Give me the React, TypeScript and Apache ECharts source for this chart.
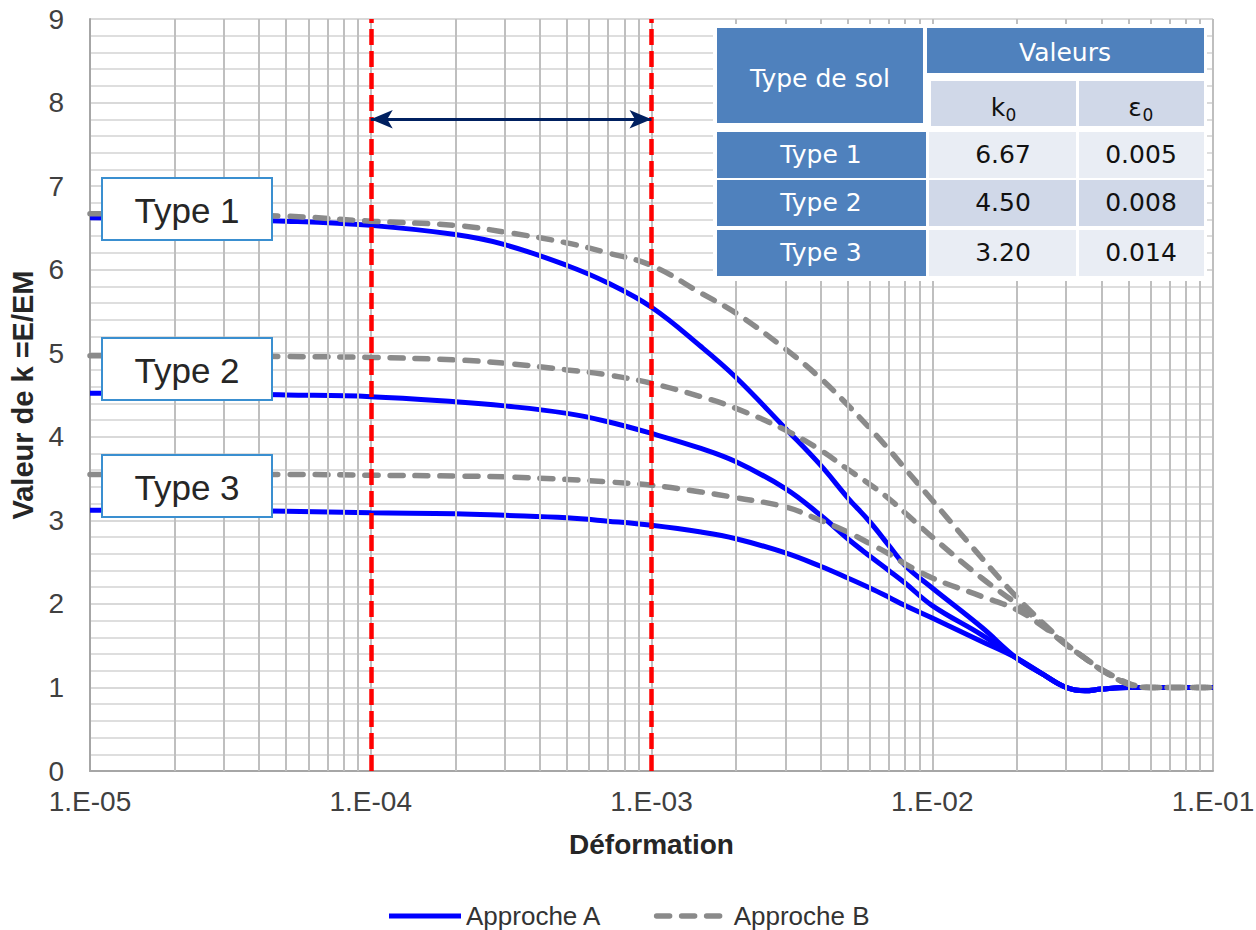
import React, { useEffect, useRef } from 'react';
import * as echarts from 'echarts';

// ---------- data ----------
const strain = [1e-5, 2e-5, 5e-5, 1e-4, 2e-4, 3e-4, 5e-4, 7e-4, 1e-3, 1.5e-3, 2e-3, 3e-3, 4e-3, 5e-3, 6e-3, 7e-3, 8e-3, 1e-2, 1.5e-2, 2e-2, 2.5e-2, 3e-2, 3.5e-2, 4e-2, 5e-2, 6e-2, 7e-2, 1e-1];

const approcheA_type1 = [6.62, 6.61, 6.58, 6.53, 6.42, 6.30, 6.05, 5.84, 5.55, 5.08, 4.71, 4.10, 3.66, 3.27, 2.98, 2.70, 2.46, 2.19, 1.72, 1.35, 1.15, 1.0, 0.96, 0.98, 1.0, 1.0, 1.0, 1.0];
const approcheA_type2 = [4.52, 4.52, 4.50, 4.48, 4.42, 4.37, 4.28, 4.18, 4.04, 3.86, 3.70, 3.38, 3.06, 2.78, 2.57, 2.40, 2.25, 1.98, 1.63, 1.35, 1.15, 1.0, 0.96, 0.98, 1.0, 1.0, 1.0, 1.0];
const approcheA_type3 = [3.12, 3.12, 3.11, 3.09, 3.08, 3.06, 3.03, 2.99, 2.94, 2.86, 2.78, 2.61, 2.45, 2.31, 2.19, 2.08, 1.98, 1.83, 1.55, 1.35, 1.15, 1.0, 0.96, 0.98, 1.0, 1.0, 1.0, 1.0];

const approcheB_type1 = [6.67, 6.66, 6.64, 6.58, 6.53, 6.45, 6.32, 6.2, 6.05, 5.72, 5.48, 5.05, 4.70, 4.38, 4.10, 3.85, 3.62, 3.24, 2.55, 2.08, 1.76, 1.52, 1.35, 1.22, 1.05, 1.0, 1.0, 1.0];
const approcheB_type2 = [4.97, 4.97, 4.96, 4.95, 4.92, 4.88, 4.8, 4.74, 4.64, 4.48, 4.34, 4.08, 3.84, 3.61, 3.43, 3.26, 3.09, 2.80, 2.31, 2.0, 1.74, 1.51, 1.35, 1.21, 1.04, 1.0, 1.0, 1.0];
const approcheB_type3 = [3.55, 3.55, 3.55, 3.54, 3.53, 3.52, 3.49, 3.46, 3.42, 3.34, 3.27, 3.16, 3.0, 2.86, 2.72, 2.6, 2.48, 2.31, 2.09, 1.93, 1.72, 1.51, 1.35, 1.21, 1.04, 1.0, 1.0, 1.0];

const xTickLabels = ['1.E-05', '1.E-04', '1.E-03', '1.E-02', '1.E-01'];
const decades = [1e-5, 1e-4, 1e-3, 1e-2];
const minorMultipliers = [2, 3, 4, 5, 6, 7, 8, 9];
const boundaryStrains = [1e-4, 1e-3];
const arrowLevel = 7.8;
const yRange = [0, 9];

const legendNames = ['Approche A', 'Approche B'];
const curveLabels = ['Type 1', 'Type 2', 'Type 3'];

const tableHeader = ['Type de sol', 'Valeurs'];
const soilTypes = ['Type 1', 'Type 2', 'Type 3'];
const k0Values = ['6.67', '4.50', '3.20'];
const eps0Values = ['0.005', '0.008', '0.014'];

// ---------- styles ----------
const BLUE = '#0000ff';
const GRAY = '#8a8a8a';
const RED = '#ff0000';
const NAVY = '#002060';
const CELL_DARK = '#4f81bd';
const CELL_MID = '#d0d8e8';
const CELL_LIGHT = '#e9edf4';
const AXIS_FONT = '"Liberation Sans", Arial, sans-serif';
const TABLE_FONT = '"DejaVu Sans", Verdana, sans-serif';
const DASH_B = [13, 12];

function pairs(ys: number[]) {
  return strain.map((x, i) => [x, ys[i]]);
}

function vline(x: number) {
  return [{ coord: [x, yRange[0]] }, { coord: [x, yRange[1]] }];
}

function buildTable(): any[] {
  const els: any[] = [];
  const rect = (x: number, y: number, w: number, h: number, fill: string) => ({
    type: 'rect', z: 100, silent: true,
    shape: { x, y, width: w, height: h }, style: { fill },
  });
  const text = (x: number, y: number, t: string, fill: string, size = 25) => ({
    type: 'text', z: 101, silent: true, x, y,
    style: { text: t, fill, fontSize: size, fontFamily: TABLE_FONT, align: 'center', verticalAlign: 'middle' },
  });
  els.push(rect(713, 24, 494, 257, '#ffffff'));
  els.push(rect(717, 28, 206, 95, CELL_DARK));
  els.push(text(820, 78, tableHeader[0], '#ffffff'));
  els.push(rect(927, 28, 277, 45, CELL_DARK));
  els.push(text(1065, 52, tableHeader[1], '#ffffff'));
  els.push(rect(931, 81, 145, 45, CELL_MID));
  els.push(rect(1079, 81, 125, 45, CELL_MID));
  els.push(text(998, 107, 'k', '#111111'));
  els.push(text(1011, 115, '0', '#111111', 17));
  els.push(text(1135, 107, 'ε', '#111111'));
  els.push(text(1148, 115, '0', '#111111', 17));
  const rowY = [132, 180, 230];
  const rowFill = [CELL_LIGHT, CELL_MID, CELL_LIGHT];
  soilTypes.forEach((s, i) => {
    const y = rowY[i];
    els.push(rect(717, y, 209, 46, CELL_DARK));
    els.push(rect(929, y, 147, 46, rowFill[i]));
    els.push(rect(1079, y, 125, 46, rowFill[i]));
    els.push(text(821, y + 22, s, '#ffffff'));
    els.push(text(1003, y + 22, k0Values[i], '#111111'));
    els.push(text(1141, y + 22, eps0Values[i], '#111111'));
  });
  return els;
}

function buildCurveLabels(): any[] {
  const boxY = [178, 338, 455];
  const els: any[] = [];
  curveLabels.forEach((t, i) => {
    els.push({
      type: 'rect', z: 90, silent: true,
      shape: { x: 102, y: boxY[i], width: 170, height: 62 },
      style: { fill: '#ffffff', stroke: '#3a8fd0', lineWidth: 2 },
    });
    els.push({
      type: 'text', z: 91, silent: true, x: 187, y: boxY[i] + 32,
      style: { text: t, fill: '#262626', fontSize: 35, fontFamily: AXIS_FONT, align: 'center', verticalAlign: 'middle' },
    });
  });
  return els;
}

export default function App() {
  const ref = useRef<HTMLDivElement>(null);
  useEffect(() => {
    if (!ref.current) return;
    const chart = echarts.init(ref.current, null, { renderer: 'svg' });

    const minorLines: any[] = [];
    decades.forEach((d) => minorMultipliers.forEach((m) => minorLines.push(vline(d * m))));

    const curveA = (ys: number[]) => ({
      name: legendNames[0], type: 'line', data: pairs(ys), symbol: 'none', smooth: 0.4, z: 3,
      lineStyle: { color: BLUE, width: 5 }, itemStyle: { color: BLUE },
    });
    const curveB = (ys: number[]) => ({
      name: legendNames[1], type: 'line', data: pairs(ys), symbol: 'none', smooth: 0.4, z: 3,
      lineStyle: { color: GRAY, width: 5.5, type: DASH_B, cap: 'round' }, itemStyle: { color: GRAY },
    });

    chart.setOption({
      animation: false,
      backgroundColor: '#ffffff',
      grid: { left: 90, right: 43, top: 19, bottom: 159, containLabel: false, outerBoundsMode: 'none' },
      legend: {
        left: 'center', top: 898, itemWidth: 72, itemHeight: 20, itemGap: 52,
        textStyle: { fontSize: 26, fontFamily: AXIS_FONT, color: '#333333' },
        itemStyle: { opacity: 0 },
        data: [
          { name: legendNames[0], lineStyle: { color: BLUE, width: 5, type: 'solid' } },
          { name: legendNames[1], lineStyle: { color: GRAY, width: 5.5, type: DASH_B, cap: 'round' } },
        ],
      },
      xAxis: {
        type: 'log', logBase: 10, min: 1e-5, max: 1e-1,
        name: 'Déformation', nameLocation: 'middle', nameGap: 59,
        nameTextStyle: { fontSize: 28, fontWeight: 'bold', fontFamily: AXIS_FONT, color: '#262626' },
        axisLine: { show: true, lineStyle: { color: '#a6a6a6', width: 2 } },
        axisTick: { show: false },
        axisLabel: {
          fontSize: 28, fontFamily: AXIS_FONT, color: '#404040', margin: 16,
          formatter: (v: number) => xTickLabels[Math.round(Math.log10(v)) + 5] ?? '',
        },
        splitLine: { show: true, lineStyle: { color: '#bfbfbf', width: 2 } },
      },
      yAxis: {
        type: 'value', min: yRange[0], max: yRange[1], interval: 1,
        name: 'Valeur de k =E/EM', nameLocation: 'middle', nameGap: 50, nameRotate: 90,
        nameTextStyle: { fontSize: 29, fontWeight: 'bold', fontFamily: AXIS_FONT, color: '#262626' },
        axisLine: { show: true, lineStyle: { color: '#a6a6a6', width: 2 } },
        axisTick: { show: false },
        axisLabel: { fontSize: 28, fontFamily: AXIS_FONT, color: '#404040', margin: 26 },
        splitLine: { show: true, lineStyle: { color: '#d9d9d9', width: 2 } },
        minorTick: { show: false, splitNumber: 5 },
        minorSplitLine: { show: true, lineStyle: { color: '#dedede', width: 2 } },
      },
      series: [
        {
          name: 'grid', type: 'line', data: [], z: 1, silent: true,
          markLine: {
            silent: true, symbol: 'none', animation: false, label: { show: false },
            lineStyle: { color: '#bfbfbf', width: 2, type: 'solid' },
            emphasis: { disabled: true },
            data: minorLines,
          },
        },
        curveA(approcheA_type1), curveA(approcheA_type2), curveA(approcheA_type3),
        curveB(approcheB_type1), curveB(approcheB_type2), curveB(approcheB_type3),
        {
          name: 'limits', type: 'line', data: [], z: 5, silent: true,
          markLine: {
            silent: true, symbol: 'none', animation: false, label: { show: false },
            lineStyle: { color: RED, width: 4.5, type: [16, 6] },
            emphasis: { disabled: true },
            data: boundaryStrains.map((x) => vline(x)),
          },
        },
        {
          name: 'arrow', type: 'line', data: [], z: 6, silent: true,
          markLine: {
            silent: true, symbol: ['arrow', 'arrow'], symbolSize: [14, 22], animation: false,
            label: { show: false },
            lineStyle: { color: NAVY, width: 3, type: 'solid' },
            emphasis: { disabled: true },
            data: [[{ coord: [boundaryStrains[0], arrowLevel] }, { coord: [boundaryStrains[1], arrowLevel] }]],
          },
        },
      ],
      graphic: [...buildCurveLabels(), ...buildTable()],
    });
    return () => chart.dispose();
  }, []);
  return <div ref={ref} style={{ position: 'fixed', left: 0, top: 0, width: 1256, height: 930 }} />;
}
